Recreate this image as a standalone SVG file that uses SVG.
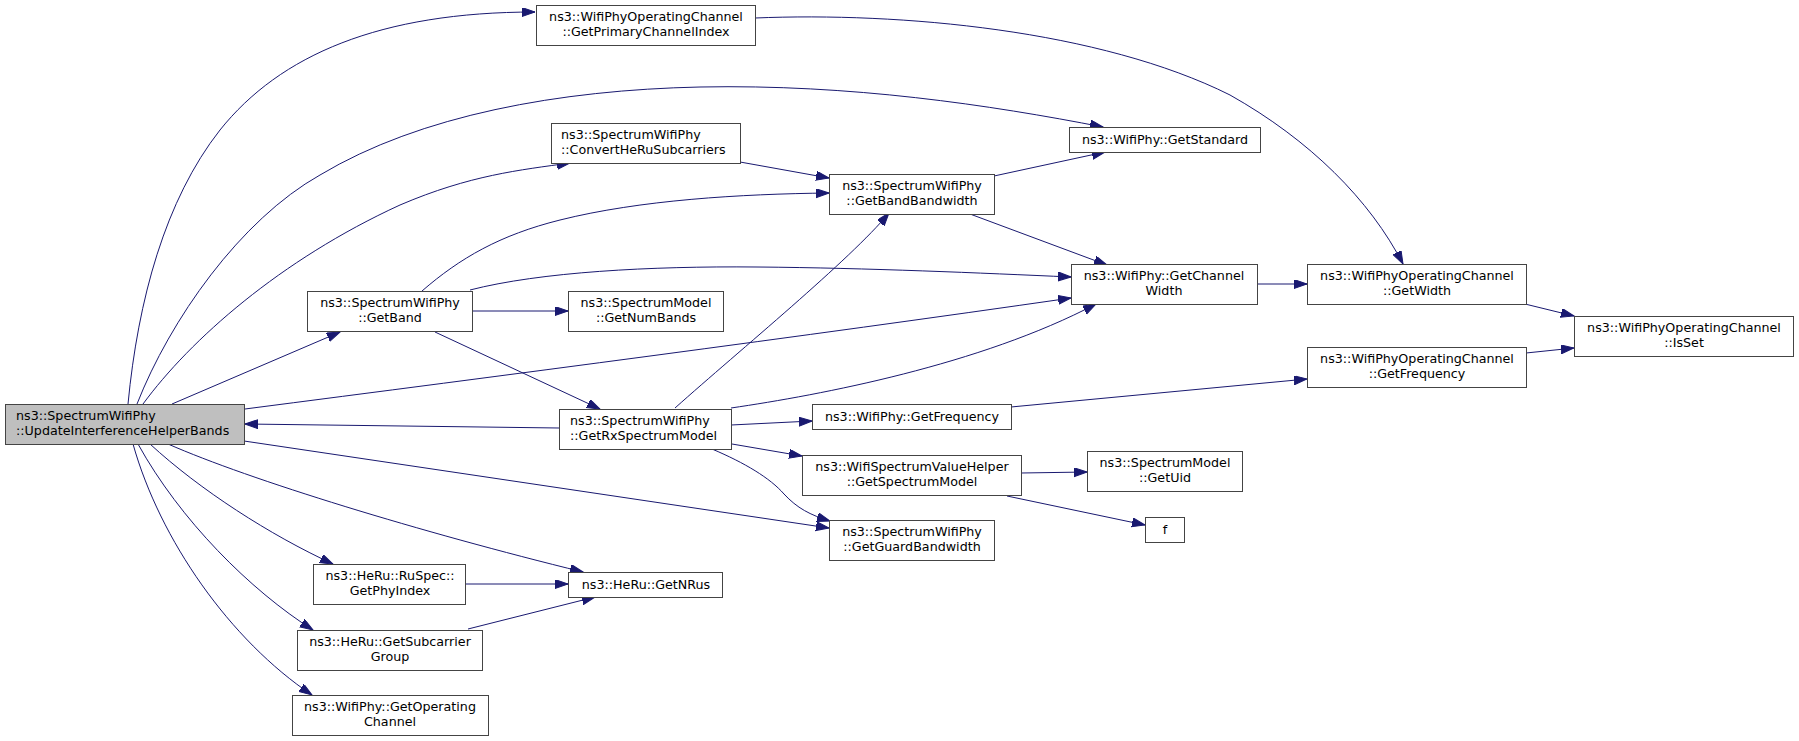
<svg xmlns="http://www.w3.org/2000/svg" width="1799" height="741" viewBox="0 0 1799 741">
<style>
.node rect{fill:#ffffff;stroke:#444444;stroke-width:1}
.node.main rect{fill:#bfbfbf}
.node text{font-family:"DejaVu Sans","Liberation Sans",sans-serif;font-size:12.7px;fill:#000000;text-anchor:middle}
.node text.l{text-anchor:start}
.edges path{fill:none;stroke:#191970;stroke-width:1;marker-end:url(#arr)}
</style>
<defs>
<marker id="arr" markerUnits="userSpaceOnUse" markerWidth="14" markerHeight="10" refX="13" refY="4.5" orient="auto">
<path d="M0,0 L13,4.5 L0,9 z" fill="#191970" stroke="#191970" stroke-width="1"/>
</marker>
</defs>
<rect width="1799" height="741" fill="#ffffff"/>
<g class="edges">
<path d="M128,404 C138,300 165,200 220,130 C280,55 380,12 535,12"/>
<path d="M137,404 C170,320 240,220 320,175 C420,115 560,90 700,87 C850,84 990,105 1103,127"/>
<path d="M143,404 C190,340 280,260 400,205 C470,175 520,170 570,163"/>
<path d="M172,404 L340,332"/>
<path d="M245,409 C500,376 800,337 1071,298"/>
<path d="M559,428 L245,424"/>
<path d="M244,441 L829,528"/>
<path d="M168,444 C250,480 420,532 583,572"/>
<path d="M150,444 C200,490 270,535 333,564"/>
<path d="M138,444 C180,520 250,590 313,630"/>
<path d="M133,444 C160,540 230,640 312,695"/>
<path d="M740,162 L829,178"/>
<path d="M422,291 C460,258 500,235 560,220 C640,200 740,194 829,193"/>
<path d="M470,290 C540,272 650,266 757,267 C870,268 980,273 1071,277"/>
<path d="M472,311 L568,311"/>
<path d="M435,332 L600,409"/>
<path d="M994,176 L1105,152"/>
<path d="M970,214 L1107,265"/>
<path d="M675,408 C740,350 850,260 889,213"/>
<path d="M731,408 C820,395 980,365 1096,304"/>
<path d="M731,425 L812,421"/>
<path d="M732,444 L802,456"/>
<path d="M712,449 C745,463 770,478 784,494 C797,508 810,515 830,521"/>
<path d="M1021,473 L1087,472"/>
<path d="M1007,496 L1145,525"/>
<path d="M466,584 L568,584"/>
<path d="M468,629 L595,597"/>
<path d="M755,18 C900,12 1100,30 1230,95 C1310,140 1370,200 1403,264"/>
<path d="M1257,284 L1307,284"/>
<path d="M1525,304 L1574,316"/>
<path d="M1011,407 L1307,379"/>
<path d="M1526,353 L1574,348"/>
</g>
<g id="n_update" class="node main"><rect x="5.5" y="404.5" width="239" height="40"/><text class="l" x="16" y="420">ns3::SpectrumWifiPhy</text><text class="l" x="16" y="435">::UpdateInterferenceHelperBands</text></g>
<g id="n_primary" class="node"><rect x="536.5" y="5.5" width="219" height="40"/><text x="646" y="21">ns3::WifiPhyOperatingChannel</text><text x="646" y="36">::GetPrimaryChannelIndex</text></g>
<g id="n_standard" class="node"><rect x="1069.5" y="127.5" width="191" height="25"/><text x="1165" y="144">ns3::WifiPhy::GetStandard</text></g>
<g id="n_convert" class="node"><rect x="551.5" y="123.5" width="189" height="40"/><text class="l" x="561" y="139">ns3::SpectrumWifiPhy</text><text class="l" x="561" y="154">::ConvertHeRuSubcarriers</text></g>
<g id="n_bandbw" class="node"><rect x="829.5" y="174.5" width="165" height="40"/><text x="912" y="190">ns3::SpectrumWifiPhy</text><text x="912" y="205">::GetBandBandwidth</text></g>
<g id="n_getband" class="node"><rect x="307.5" y="291.5" width="165" height="40"/><text x="390" y="307">ns3::SpectrumWifiPhy</text><text x="390" y="322">::GetBand</text></g>
<g id="n_numbands" class="node"><rect x="568.5" y="291.5" width="155" height="40"/><text x="646" y="307">ns3::SpectrumModel</text><text x="646" y="322">::GetNumBands</text></g>
<g id="n_chwidth" class="node"><rect x="1071.5" y="264.5" width="186" height="40"/><text x="1164" y="280">ns3::WifiPhy::GetChannel</text><text x="1164" y="295">Width</text></g>
<g id="n_getwidth" class="node"><rect x="1307.5" y="264.5" width="219" height="40"/><text x="1417" y="280">ns3::WifiPhyOperatingChannel</text><text x="1417" y="295">::GetWidth</text></g>
<g id="n_isset" class="node"><rect x="1574.5" y="316.5" width="219" height="40"/><text x="1684" y="332">ns3::WifiPhyOperatingChannel</text><text x="1684" y="347">::IsSet</text></g>
<g id="n_wpocfreq" class="node"><rect x="1307.5" y="347.5" width="219" height="40"/><text x="1417" y="363">ns3::WifiPhyOperatingChannel</text><text x="1417" y="378">::GetFrequency</text></g>
<g id="n_rx" class="node"><rect x="559.5" y="409.5" width="172" height="40"/><text class="l" x="570" y="425">ns3::SpectrumWifiPhy</text><text class="l" x="570" y="440">::GetRxSpectrumModel</text></g>
<g id="n_freq" class="node"><rect x="812.5" y="404.5" width="199" height="25"/><text x="912" y="421">ns3::WifiPhy::GetFrequency</text></g>
<g id="n_specmodel" class="node"><rect x="802.5" y="455.5" width="219" height="40"/><text x="912" y="471">ns3::WifiSpectrumValueHelper</text><text x="912" y="486">::GetSpectrumModel</text></g>
<g id="n_uid" class="node"><rect x="1087.5" y="451.5" width="155" height="40"/><text x="1165" y="467">ns3::SpectrumModel</text><text x="1165" y="482">::GetUid</text></g>
<g id="n_f" class="node"><rect x="1145.5" y="517.5" width="39" height="25"/><text x="1165" y="534">f</text></g>
<g id="n_guard" class="node"><rect x="829.5" y="520.5" width="165" height="40"/><text x="912" y="536">ns3::SpectrumWifiPhy</text><text x="912" y="551">::GetGuardBandwidth</text></g>
<g id="n_phyindex" class="node"><rect x="313.5" y="564.5" width="152" height="40"/><text x="390" y="580">ns3::HeRu::RuSpec::</text><text x="390" y="595">GetPhyIndex</text></g>
<g id="n_nrus" class="node"><rect x="568.5" y="572.5" width="154" height="25"/><text x="646" y="589">ns3::HeRu::GetNRus</text></g>
<g id="n_subgroup" class="node"><rect x="297.5" y="630.5" width="185" height="40"/><text x="390" y="646">ns3::HeRu::GetSubcarrier</text><text x="390" y="661">Group</text></g>
<g id="n_opchan" class="node"><rect x="292.5" y="695.5" width="196" height="40"/><text x="390" y="711">ns3::WifiPhy::GetOperating</text><text x="390" y="726">Channel</text></g>
</svg>
